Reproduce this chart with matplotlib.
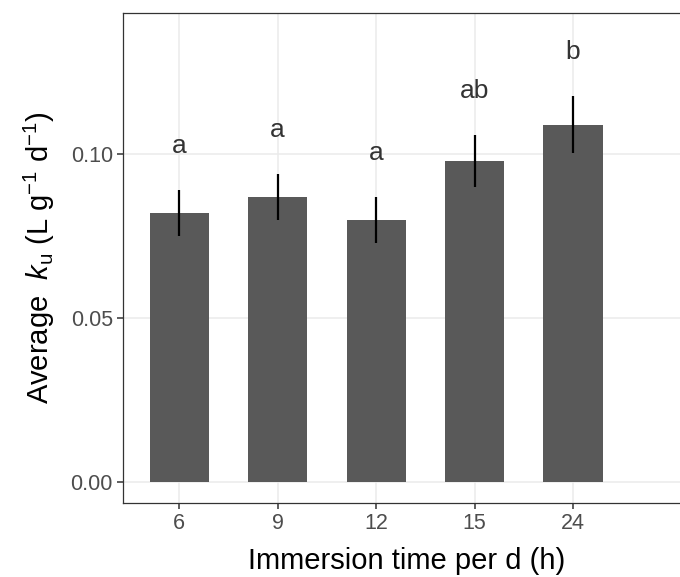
import matplotlib
matplotlib.use("Agg")
import matplotlib.pyplot as plt
import numpy as np

# data
hours = ["6", "9", "12", "15", "24"]
ku_mean = [0.082, 0.087, 0.080, 0.098, 0.109]
ku_se = [0.0070, 0.0070, 0.0070, 0.0079, 0.0088]
groups = ["a", "a", "a", "ab", "b"]

plt.rcParams['font.family'] = ['Liberation Sans', 'DejaVu Sans']
plt.rcParams['mathtext.fontset'] = 'custom'
plt.rcParams['mathtext.rm'] = 'Liberation Sans'
plt.rcParams['mathtext.it'] = 'Liberation Sans:italic'
plt.rcParams['mathtext.default'] = 'regular'

fig = plt.figure(figsize=(6.8, 5.77), dpi=100)
ax = fig.add_axes([123/680, 74/577, (690-123)/680, 490/577])

x = np.arange(len(hours))
ax.bar(x, ku_mean, width=0.6, color="#595959", zorder=2)
ax.errorbar(x, ku_mean, yerr=ku_se, fmt="none", ecolor="black",
            elinewidth=1.6, capsize=0, zorder=3)
for xi, m, s, g in zip(x, ku_mean, ku_se, groups):
    ax.text(xi, m + s + 0.0133, g, ha="center", va="center",
            fontsize=19, color="#333333", zorder=4)

ax.set_xlim(-0.57, (690-179)/98.5)
ax.set_ylim(-0.0064, 0.143)
ax.set_xticks(x)
ax.set_xticklabels(hours)
ax.set_yticks([0.0, 0.05, 0.10])
ax.set_yticklabels(["0.00", "0.05", "0.10"])

ax.grid(True, color="#EBEBEB", linewidth=1.1, zorder=0)
ax.set_axisbelow(True)
for sp in ax.spines.values():
    sp.set_color("#333333")
    sp.set_linewidth(0.9)
ax.tick_params(axis="both", length=4.3, width=1.1, color="#333333",
               labelcolor="#4D4D4D", labelsize=15.5, pad=3)

ax.set_xlabel("Immersion time per d (h)", fontsize=21, color="black", labelpad=9)
ax.set_ylabel(r"Average  $\mathit{k}_{\mathrm{u}}$ (L g$^{-1}$ d$^{-1}$)",
              fontsize=21, color="black", labelpad=10)

fig.savefig("out.png", dpi=100)
